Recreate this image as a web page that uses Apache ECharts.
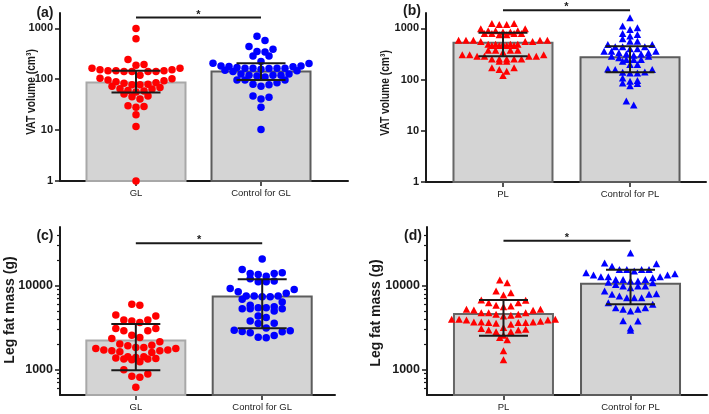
<!DOCTYPE html>
<html><head><meta charset="utf-8">
<script src="https://cdn.jsdelivr.net/npm/echarts@6/dist/echarts.min.js"></script>
<style>html,body{margin:0;padding:0;background:#fff}#c{width:709px;height:414px}</style>
</head><body><div id="c"></div>
<script>
// ---------- data ----------
const catsGL = ['GL', 'Control for GL'];
const catsPL = ['PL', 'Control for PL'];

// VAT volume (cm3), individual subjects
const glVAT = [990, 622, 243, 188, 194,
  164, 153, 146, 141, 141, 141, 120, 141, 146, 146, 153, 164,
  105, 96, 89, 83, 78, 73, 78, 80, 85, 93, 102,
  64, 59, 51, 45, 69, 41, 47, 56, 60, 65,
  29, 28, 30, 20, 11.8, 1];
const ctrlGlVAT = [702, 577, 441, 386, 342, 352, 286, 286, 222, 206,
  182, 169, 164, 162, 157, 203, 177, 175, 150, 164, 164, 164, 182,
  120, 120, 111, 97, 85, 78, 73, 80, 97, 97, 116, 120,
  141, 126, 126, 146,
  47, 41, 44, 28, 10.3];
const plVAT = [1253, 1197, 1197, 1253,
  985, 900, 900, 900, 985,
  848, 798, 798, 751, 751, 798, 798, 848,
  590, 590, 556, 590, 556, 590, 556, 590,
  493, 464, 493, 464, 493, 464, 493, 464, 493,
  376, 376, 343, 376, 376,
  305, 287, 287, 305, 287, 305, 287,
  254, 254, 229, 254, 254, 254,
  228, 170, 157, 170, 146, 120];
const ctrlPlVAT = [1620, 1111, 1030, 955, 798, 707, 627, 763, 564, 564,
  486, 437, 399, 359, 359, 359, 399, 437, 437, 486,
  318, 333, 287, 247, 247, 300, 229, 247, 266, 287, 318, 333,
  157, 139, 135, 197, 135, 141, 157, 162, 197,
  108, 93, 83.5, 76, 86, 96,
  32, 38];

// Leg fat mass (g), individual subjects
const glLeg = [5840, 6000, 3915, 3810, 4365, 4487, 3640, 3915,
  2900, 3090, 3090, 2900, 2577, 2420, 2354,
  2148, 1962, 1841, 1791, 1711, 1680, 1680, 1711, 1791, 1841, 1927, 2017,
  1636, 1426, 1377, 1340, 1315, 1245, 1340, 1364, 1402, 1426, 1607,
  1000, 889, 834, 812, 618];
const ctrlGlLeg = [20840, 15600, 14000, 13600, 14000, 14250,
  11350, 11150, 11150, 12100, 13000,
  9290, 8470, 8110, 9040,
  7540, 7400, 7400, 7540, 7540, 6890, 6400,
  5480, 5330, 5630, 5000, 5480, 5840, 5330, 5330,
  4175, 3575, 3810, 4365,
  2900, 2823, 2553, 2397, 2440, 2748, 2850, 2953, 3147, 3548];
const plLeg = [10840, 11660, 8260, 7740, 8630, 6760, 6280, 5840, 6700, 6280,
  5740, 5240, 5100, 4780, 4570, 4450, 4370, 4570, 4780, 4780, 5140, 5240, 5630,
  3990, 3915, 3705, 3640, 3575, 3640, 3705, 3990, 3478, 3640, 3705, 3780, 3915, 3990,
  2980, 2823, 3090, 2980, 3177, 2823, 3035,
  2420, 2270, 2577,
  1680, 1315];
const ctrlPlLeg = [24550,
  18700, 17100, 18200,
  15600, 14250, 13370, 15600, 15600, 15600, 13370, 12770, 13870, 14920,
  12770, 12420, 11880, 11880, 11880, 12770,
  11350, 11000, 9900, 9460, 9900, 9900, 10350, 10840, 11350,
  7890, 7540, 7200, 7200, 8650, 7200, 7890, 8000,
  6280, 6000, 5480, 5240, 5000, 5240, 5480,
  3810, 3840, 2953, 3147];

// bar height and error bar [center, low, high] per group
const barsVatGL = [[86, 55, 146], [141, 96, 206]];
const barsVatPL = [[524, 287, 824], [274, 139, 450]];
const barsLegGL = [[2230, 984, 3508], [7460, 3120, 11970]];
const barsLegPL = [[4610, 2530, 6750], [10560, 6000, 15480]];

// significance bracket levels
const sigLevels = [1625, 2254, 32000, 34400];

// tick values
const vatTicks = [1, 10, 100, 1000];
const legTicks = [1000, 10000];
const legMinorTicks = [600, 700, 800, 900, 2000, 3000, 4000, 5000, 6000, 7000, 8000, 9000, 20000, 30000, 40000];

// ---------- chart ----------
const FONT = 'Arial, "Liberation Sans", sans-serif';
const INK = '#1a1a1a';
const chart = echarts.init(document.getElementById('c'));

const panels = [
  {grid: {left: 60, top: 13, width: 288, height: 168}, xMin: -0.608, xMax: 1.696, yMin: 1, yMax: 2000,
   cats: catsGL, groups: [glVAT, ctrlGlVAT], bars: barsVatGL, sig: sigLevels[0], symbol: 'circle',
   ticks: vatTicks, minor: null, borders: ['#a8a8a8', '#5c5c5c'], lab: 11, rowH: 7},
  {grid: {left: 426, top: 13, width: 280, height: 169}, xMin: -0.606, xMax: 1.598, yMin: 1, yMax: 2000,
   cats: catsPL, groups: [plVAT, ctrlPlVAT], bars: barsVatPL, sig: sigLevels[1], symbol: 'triangle',
   ticks: vatTicks, minor: null, borders: ['#666666', '#5c5c5c'], lab: 11, rowH: 4.5},
  {grid: {left: 60, top: 227, width: 275, height: 168}, xMin: -0.600, xMax: 1.576, yMin: 500, yMax: 50000,
   cats: catsGL, groups: [glLeg, ctrlGlLeg], bars: barsLegGL, sig: sigLevels[2], symbol: 'circle',
   ticks: legTicks, minor: legMinorTicks, borders: ['#a8a8a8', '#5c5c5c'], lab: 12.5, rowH: 9},
  {grid: {left: 427, top: 227, width: 280, height: 168}, xMin: -0.602, xMax: 1.602, yMin: 500, yMax: 50000,
   cats: catsPL, groups: [plLeg, ctrlPlLeg], bars: barsLegPL, sig: sigLevels[3], symbol: 'triangle',
   ticks: legTicks, minor: legMinorTicks, borders: ['#666666', '#5c5c5c'], lab: 12.5, rowH: 8.5}
];
const COLORS = ['#ff0000', '#0000ff'];

const grids = [], xAxes = [], yAxes = [], series = [];
const barSeriesIdx = [], scatterSeriesIdx = [];

panels.forEach((p, i) => {
  grids.push(Object.assign({outerBoundsMode: 'none', containLabel: false}, p.grid));
  xAxes.push({
    type: 'value', gridIndex: i, min: p.xMin, max: p.xMax, splitLine: {show: false},
    axisLine: {show: true, onZero: false, lineStyle: {color: INK, width: 2}},
    axisTick: {show: true, customValues: [0, 1], length: 5, lineStyle: {color: INK, width: 1.5}},
    axisLabel: {customValues: [0, 1], formatter: v => p.cats[Math.round(v)], margin: 7,
      fontSize: 9.5, color: '#222', fontFamily: FONT}
  });
  yAxes.push({
    type: 'log', logBase: 10, gridIndex: i, min: p.yMin, max: p.yMax, splitLine: {show: false},
    axisLine: {show: true, onZero: false, lineStyle: {color: INK, width: 2}},
    axisTick: {show: true, customValues: p.ticks, length: 5, lineStyle: {color: INK, width: 1.5}},
    axisLabel: {customValues: p.ticks, formatter: v => String(Math.round(v)), margin: 7,
      fontSize: p.lab, fontWeight: 'bold', color: INK, fontFamily: FONT}
  });
});
panels.forEach((p, i) => {
  if (p.minor) {
    yAxes.push({
      type: 'log', logBase: 10, gridIndex: i, min: p.yMin, max: p.yMax, position: 'left', offset: 0,
      splitLine: {show: false}, axisLine: {show: false, onZero: false}, axisLabel: {show: false},
      axisTick: {show: true, customValues: p.minor, length: 3, lineStyle: {color: INK, width: 1.2}}
    });
  }
});

panels.forEach((p, i) => {
  const yMin = p.yMin;
  barSeriesIdx.push(series.length);
  series.push({
    type: 'custom', xAxisIndex: i, yAxisIndex: i, z: 1, silent: true, clip: false,
    data: p.bars.map((b, k) => [k, b[0], b[1], b[2]]), encode: {x: 0, y: 1},
    renderItem: (params, api) => {
      const x = api.value(0);
      const top = api.coord([x, api.value(1)]);
      const base = api.coord([x, yMin]);
      return {type: 'rect', shape: {x: top[0] - 49.5, y: top[1], width: 99, height: base[1] - top[1]},
        style: {fill: '#d4d4d4', stroke: p.borders[params.dataIndex], lineWidth: 2}};
    }
  });
  const sIdx = [];
  p.groups.forEach((g, k) => {
    sIdx.push(series.length);
    series.push({
      type: 'scatter', xAxisIndex: i, yAxisIndex: i, z: 2, symbol: p.symbol,
      symbolSize: p.symbol === 'circle' ? 7.5 : [7.5, 7], itemStyle: {color: COLORS[k], opacity: 1},
      data: []
    });
  });
  scatterSeriesIdx.push(sIdx);
  series.push({
    type: 'custom', xAxisIndex: i, yAxisIndex: i, z: 3, silent: true, clip: false,
    data: p.bars.map((b, k) => [k, b[0], b[1], b[2]]), encode: {x: 0, y: 1},
    renderItem: (params, api) => {
      const x = api.value(0);
      const lo = api.coord([x, api.value(2)]);
      const hi = api.coord([x, api.value(3)]);
      const st = {stroke: INK, lineWidth: 2};
      return {type: 'group', children: [
        {type: 'line', shape: {x1: lo[0], y1: lo[1], x2: hi[0], y2: hi[1]}, style: st},
        {type: 'line', shape: {x1: lo[0] - 24.5, y1: lo[1], x2: lo[0] + 24.5, y2: lo[1]}, style: st},
        {type: 'line', shape: {x1: hi[0] - 24.5, y1: hi[1], x2: hi[0] + 24.5, y2: hi[1]}, style: st}
      ]};
    }
  });
  series.push({
    type: 'custom', xAxisIndex: i, yAxisIndex: i, z: 3, silent: true, clip: false,
    data: [[0, 1, p.sig]], encode: {x: 0, y: 2},
    renderItem: (params, api) => {
      const a = api.coord([api.value(0), api.value(2)]);
      const b = api.coord([api.value(1), api.value(2)]);
      return {type: 'group', children: [
        {type: 'line', shape: {x1: a[0], y1: a[1], x2: b[0], y2: b[1]}, style: {stroke: INK, lineWidth: 2}},
        {type: 'text', x: (a[0] + b[0]) / 2, y: a[1] - 3,
          style: {text: '*', fill: INK, font: 'bold 11px ' + FONT, align: 'center', verticalAlign: 'middle',
            textAlign: 'center', textVerticalAlign: 'middle'}}
      ]};
    }
  });
});

function txt(x, y, text, font, align, extra) {
  return Object.assign({type: 'text', x: x, y: y, silent: true,
    style: {text: text, font: font, fill: INK, align: align, verticalAlign: 'middle',
      textAlign: align, textVerticalAlign: 'middle'}}, extra || {});
}
const graphics = [
  txt(53.5, 13, '(a)', 'bold 14px ' + FONT, 'right'),
  txt(421, 11.5, '(b)', 'bold 14px ' + FONT, 'right'),
  txt(53.5, 236, '(c)', 'bold 14px ' + FONT, 'right'),
  txt(422, 236, '(d)', 'bold 14px ' + FONT, 'right'),
  txt(31.5, 92, 'VAT volume (cm³)', 'bold 12.5px ' + FONT, 'center', {rotation: Math.PI / 2, scaleX: 0.82}),
  txt(385.5, 93, 'VAT volume (cm³)', 'bold 12.5px ' + FONT, 'center', {rotation: Math.PI / 2, scaleX: 0.82}),
  txt(10.5, 310, 'Leg fat mass (g)', 'bold 14px ' + FONT, 'center', {rotation: Math.PI / 2}),
  txt(376.5, 313, 'Leg fat mass (g)', 'bold 14px ' + FONT, 'center', {rotation: Math.PI / 2})
];

chart.setOption({
  animation: false, backgroundColor: '#ffffff',
  grid: grids, xAxis: xAxes, yAxis: yAxes, series: series, graphic: graphics
});

// ---------- column-scatter layout (rows of near-equal values), via the axes' own scales ----------
function columnScatter(values, sIdx, center, yMin, D, H) {
  const toPx = v => chart.convertToPixel({seriesIndex: sIdx}, [center, v]);
  const unit = toPx(yMin)[0] - chart.convertToPixel({seriesIndex: sIdx}, [center - 1, yMin])[0];
  const pts = values.map(v => ({v: v, py: toPx(v)[1]}));
  pts.sort((a, b) => a.py - b.py);
  const rows = [];
  let cur = null;
  pts.forEach(p => {
    if (!cur || p.py - cur.start >= H) { cur = {start: p.py, pts: []}; rows.push(cur); }
    cur.pts.push(p);
  });
  rows.forEach(r => {
    const n = r.pts.length;
    const offs = [];
    for (let j = 0; j < n; j++) offs.push((j - (n - 1) / 2) * D);
    offs.sort((a, b) => (Math.abs(b) - Math.abs(a)) || (a - b));
    r.pts.forEach((p, j) => { p.dx = offs[j]; });
  });
  return pts.map(p => [center + p.dx / unit, p.v]);
}

const update = series.map(() => ({}));
panels.forEach((p, i) => {
  const circ = p.symbol === 'circle';
  p.groups.forEach((g, k) => {
    update[scatterSeriesIdx[i][k]] = {data: columnScatter(g, barSeriesIdx[i], k, p.yMin, circ ? 8 : 7.4, p.rowH)};
  });
});
chart.setOption({series: update});
</script>
</body></html>
